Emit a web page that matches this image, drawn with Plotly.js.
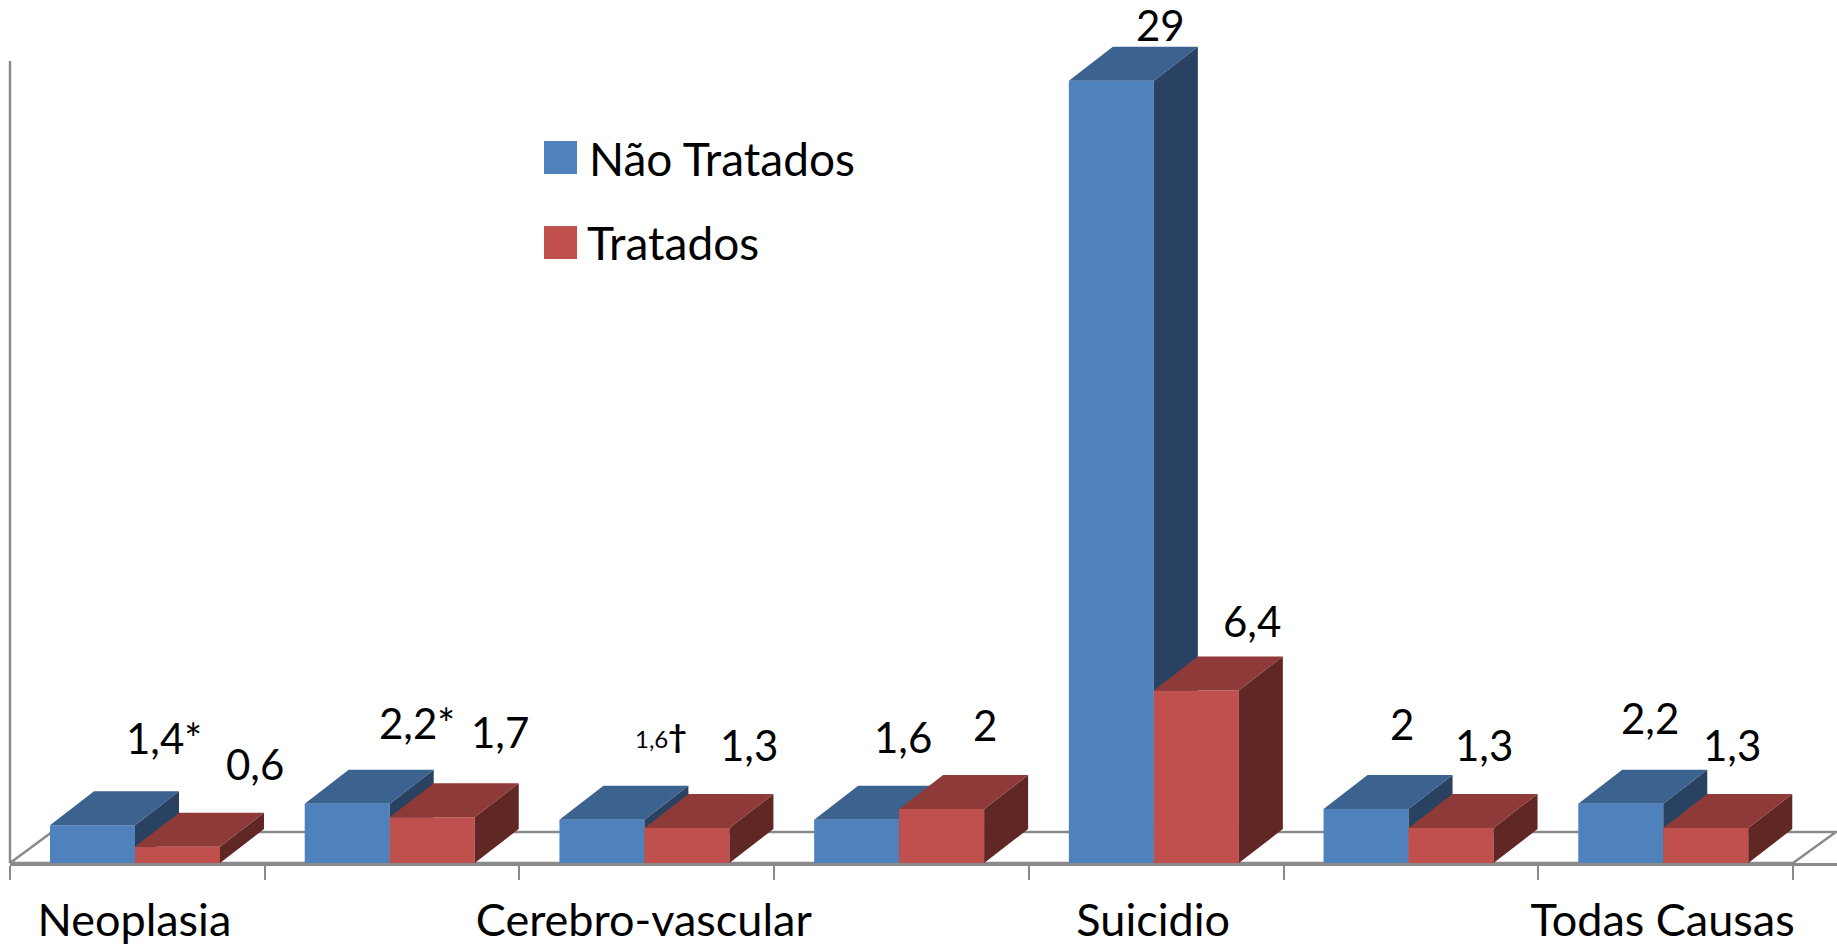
<!DOCTYPE html>
<html><head><meta charset="utf-8">
<script src="https://cdn.plot.ly/plotly-3.0.1.min.js"></script>
<style>html,body{margin:0;padding:0;background:#fff;overflow:hidden}</style>
</head><body><div id="chart" style="width:1837px;height:947px"></div>
<script>
const categories = ["Neoplasia","","Cerebro-vascular","","Suicidio","","Todas Causas"];
const naoTratados = [1.4,2.2,1.6,1.6,29,2,2.2];
const tratados = [0.6,1.7,1.3,2,6.4,1.3,1.3];
const naoTratadosLabels = ["1,4*","2,2*",'<span style="font-size:24px">1,6</span><b><span style="font-size:32px">†</span></b>',"1,6","29","2","2,2"];
const tratadosLabels = ["0,6","1,7","1,3","2","6,4","1,3","1,3"];

// pixel calibration of the axes
const PXX = 254.71, PXY = 26.97, X0 = 10, Y0 = 863, WALL_TOP = 61;
const X = p => (p - X0) / PXX, Y = p => (Y0 - p) / PXY;
const xRange = [0, X(1837)], yRange = [0, Y(0)];
const depthX = 44 / PXX, depthY = 34 / PXY;
const blueOff = -87.35 / PXX, blueW = 85 / PXX, redOff = -2.35 / PXX, redW = 85 / PXX;
const centers = categories.map((_, i) => i + 0.5);
const tickPos = centers.map(c => c - 3 / PXX);

// label anchor positions on the page
const blueLabelPos = [[164,738],[417,723],[661,735],[903,737],[1160,25],[1402,724],[1650,718]];
const redLabelPos = [[255,764],[500,732],[749,745],[985,725],[1252,621],[1484,745],[1732,745]];

function topFace(vals, off, w) {
  const xs = [], ys = [];
  vals.forEach((v, i) => {
    const l = centers[i] + off, r = l + w;
    xs.push(l, r, r + depthX, l + depthX, l, null);
    ys.push(v, v, v + depthY, v + depthY, v, null);
  });
  return {xs, ys};
}
function sideFace(vals, off, w) {
  const xs = [], ys = [];
  vals.forEach((v, i) => {
    const r = centers[i] + off + w;
    xs.push(r, r + depthX, r + depthX, r, r, null);
    ys.push(0, depthY, v + depthY, v, 0, null);
  });
  return {xs, ys};
}
function face(f, color, xa, ya, name) {
  return {type:'scatter', mode:'lines', x:f.xs, y:f.ys, fill:'toself', fillcolor:color,
    line:{width:0, color:color}, xaxis:xa, yaxis:ya, hoverinfo:'skip', showlegend:false, name:name};
}
const bt = topFace(naoTratados, blueOff, blueW), bs = sideFace(naoTratados, blueOff, blueW);
const rt = topFace(tratados, redOff, redW), rs = sideFace(tratados, redOff, redW);

const data = [
  {type:'bar', name:'Não Tratados', x:centers, y:naoTratados, width:blueW, offset:blueOff,
   marker:{color:'#4F81BD', line:{width:0}}, xaxis:'x', yaxis:'y', showlegend:false},
  face(bs, '#2A4261', 'x', 'y', 'Não Tratados lado'),
  face(bt, '#3C6290', 'x', 'y', 'Não Tratados topo'),
  {type:'bar', name:'Tratados', x:centers, y:tratados, width:redW, offset:redOff,
   marker:{color:'#C0504D', line:{width:0}}, xaxis:'x2', yaxis:'y2', showlegend:false},
  face(rs, '#612725', 'x2', 'y2', 'Tratados lado'),
  face(rt, '#8E3A38', 'x2', 'y2', 'Tratados topo')
];

const lineCol = '#8A8A8A';
const labelFont = {family:'Lato, sans-serif', size:42, color:'#000'};
const textFont = {family:'Lato, sans-serif', size:45, color:'#000'};
const legendFont = {family:'Lato, sans-serif', size:46, color:'#000'};
const floorLine = {color:lineCol, width:2.5};
const shapes = [
  {type:'path', layer:'below', xref:'x', yref:'y',
   path:`M ${X(10)},0 L ${X(52)},${Y(832)} L ${X(1836)},${Y(832)} L ${X(1793)},0 Z`,
   line:floorLine, fillcolor:'#fff'},
  {type:'line', layer:'below', xref:'paper', yref:'paper', x0:0, x1:0, y0:0, y1:(Y0 - WALL_TOP) / Y0, line:{color:lineCol, width:2.5}},
  {type:'rect', xref:'x', yref:'y', x0:X(544), x1:X(577), y0:Y(174), y1:Y(141), fillcolor:'#4F81BD', line:{width:0}},
  {type:'rect', xref:'x', yref:'y', x0:X(544), x1:X(577), y0:Y(259), y1:Y(226), fillcolor:'#C0504D', line:{width:0}}
];
const lab = (t, p) => ({text:t, x:X(p[0]), y:Y(p[1]), xref:'x', yref:'y', showarrow:false,
  xanchor:'center', yanchor:'middle', font:labelFont});
const annotations = [
  ...naoTratadosLabels.map((t, i) => lab(t, blueLabelPos[i])),
  ...tratadosLabels.map((t, i) => lab(t, redLabelPos[i])),
  {text:'Não Tratados', x:X(587), y:Y(158), xref:'x', yref:'y', showarrow:false, xanchor:'left', yanchor:'middle', font:legendFont},
  {text:'Tratados', x:X(585), y:Y(242), xref:'x', yref:'y', showarrow:false, xanchor:'left', yanchor:'middle', font:legendFont}
];

const layout = {
  width:1837, height:947, margin:{l:X0, r:0, t:0, b:947 - Y0, pad:0},
  paper_bgcolor:'#fff', plot_bgcolor:'rgba(0,0,0,0)', showlegend:false, hovermode:false,
  xaxis:{range:xRange, showgrid:false, zeroline:false, showline:true, linecolor:lineCol, linewidth:2.5,
    tickmode:'array', tickvals:tickPos, ticktext:categories, ticks:'outside', ticklen:16, tickcolor:'rgba(0,0,0,0)',
    tickangle:0, tickfont:textFont,
    minor:{tickmode:'array', tickvals:[0,1,2,3,4,5,6,7], ticks:'outside', ticklen:14, tickwidth:2, tickcolor:lineCol, showgrid:false}},
  yaxis:{range:yRange, showgrid:false, zeroline:false, showline:false, ticks:'', showticklabels:false},
  xaxis2:{range:xRange, overlaying:'x', anchor:'y2', visible:false},
  yaxis2:{range:yRange, overlaying:'y', anchor:'x2', visible:false},
  shapes, annotations
};
Plotly.newPlot('chart', data, layout, {displayModeBar:false, staticPlot:true});
</script></body></html>
